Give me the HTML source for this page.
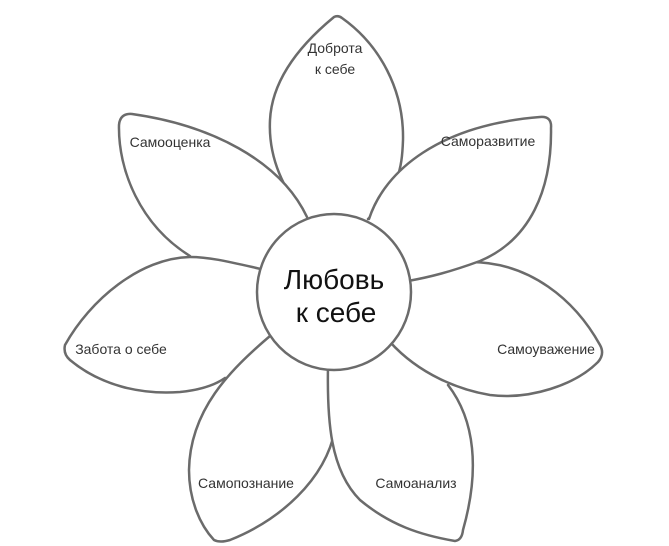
<!DOCTYPE html>
<html><head><meta charset="utf-8"><style>html,body{margin:0;padding:0;background:#fff}svg{display:block}</style></head>
<body>
<svg width="669" height="546" viewBox="0 0 669 546" xmlns="http://www.w3.org/2000/svg">
<g stroke="#6b6b6b" stroke-width="2.5" stroke-linejoin="round" stroke-linecap="round">
<path fill="#fff" stroke="none" d="M305 217 C285 190,268 160,270 120 C272 80,300 45,334 17 Q338 15,342 18 C380 45,404 90,403 140 C402 170,398 190,368 219 L334 292 Z"/>
<path fill="none" d="M305 217 C285 190,268 160,270 120 C272 80,300 45,334 17 Q338 15,342 18 C380 45,404 90,403 140 C402 170,398 190,368 219"/>

<path fill="#fff" stroke="none" d="M190 256 C140 225,118 170,119 125 Q120 113,132 114 C210 125,280 160,307 217 L334 292 Z"/>
<path fill="none" d="M190 256 C140 225,118 170,119 125 Q120 113,132 114 C210 125,280 160,307 217"/>

<path fill="#fff" stroke="none" d="M261 269 C230 262,210 257,190 257 C140 258,90 300,65 345 Q63 354,70 360 C100 385,140 395,180 392 C200 390,215 385,225 378 L334 292 Z"/>
<path fill="none" d="M261 269 C230 262,210 257,190 257 C140 258,90 300,65 345 Q63 354,70 360 C100 385,140 395,180 392 C200 390,215 385,225 378"/>

<path fill="#fff" stroke="none" d="M270 336 C230 370,190 410,189 470 C189 500,200 525,214 540 Q220 543,230 540 C280 520,325 480,335 430 L334 292 Z"/>
<path fill="none" d="M270 336 C230 370,190 410,189 470 C189 500,200 525,214 540 Q220 543,230 540 C280 520,325 480,335 430"/>

<path fill="#fff" stroke="none" d="M328 366 C327 420,330 470,360 500 C390 525,420 535,455 541 Q462 540,463 530 C480 470,475 420,448 385 L334 292 Z"/>
<path fill="none" d="M328 366 C327 420,330 470,360 500 C390 525,420 535,455 541 Q462 540,463 530 C480 470,475 420,448 385"/>

<path fill="#fff" stroke="none" d="M470 262 C530 262,575 300,600 345 Q605 354,598 362 C575 385,530 400,490 395 C460 390,420 375,390 342 L334 292 Z"/>
<path fill="none" d="M470 262 C530 262,575 300,600 345 Q605 354,598 362 C575 385,530 400,490 395 C460 390,420 375,390 342"/>

<path fill="#fff" stroke="none" d="M369 219 C385 170,440 125,540 117 Q552 116,551 128 C552 190,530 240,480 261 C450 272,430 277,408 281 L334 292 Z"/>
<path fill="none" d="M369 219 C385 170,440 125,540 117 Q552 116,551 128 C552 190,530 240,480 261 C450 272,430 277,408 281"/>

<ellipse cx="334" cy="292" rx="77" ry="78" fill="#fff"/>
</g>
<g font-family="'Liberation Sans', sans-serif" font-size="14" fill="#333" text-anchor="middle">
<text x="335" y="53">Доброта</text>
<text x="335" y="74">к себе</text>
<text x="170" y="147">Самооценка</text>
<text x="488" y="146">Саморазвитие</text>
<text x="121" y="354">Забота о себе</text>
<text x="546" y="354">Самоуважение</text>
<text x="246" y="488">Самопознание</text>
<text x="416" y="488">Самоанализ</text>
</g>
<g font-family="'Liberation Sans', sans-serif" font-size="28" fill="#111" text-anchor="middle">
<text x="334" y="289">Любовь</text>
<text x="336" y="322">к себе</text>
</g>
</svg>
</body></html>
